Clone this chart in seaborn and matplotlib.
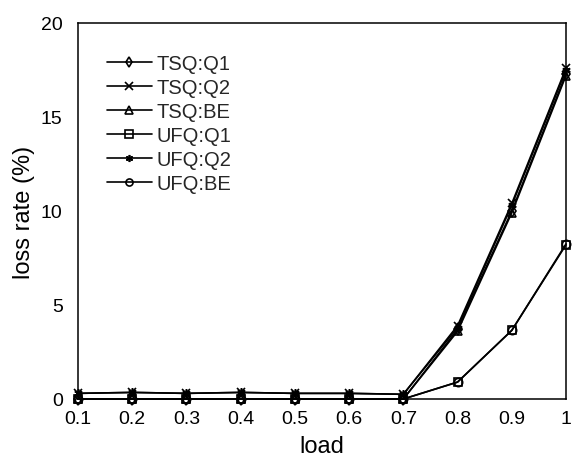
import matplotlib
matplotlib.use("Agg")
import matplotlib.pyplot as plt
import seaborn as sns
import pandas as pd

load = [0.1, 0.2, 0.3, 0.4, 0.5, 0.6, 0.7, 0.8, 0.9, 1.0]

tsq_q1 = [0.0, 0.0, 0.0, 0.0, 0.0, 0.0, 0.0, 3.7, 10.0, 17.3]
tsq_q2 = [0.3, 0.35, 0.3, 0.35, 0.3, 0.3, 0.25, 3.9, 10.4, 17.6]
tsq_be = [0.0, 0.0, 0.0, 0.0, 0.0, 0.0, 0.0, 3.6, 9.9, 17.2]
ufq_q1 = [0.0, 0.0, 0.0, 0.0, 0.0, 0.0, 0.0, 0.9, 3.65, 8.2]
ufq_q2 = [0.3, 0.35, 0.3, 0.35, 0.3, 0.3, 0.25, 3.8, 10.3, 17.5]
ufq_be = [0.0, 0.0, 0.0, 0.0, 0.0, 0.0, 0.0, 0.9, 3.65, 8.25]

series = [
    ("TSQ:Q1", tsq_q1, "d"),
    ("TSQ:Q2", tsq_q2, "x"),
    ("TSQ:BE", tsq_be, "^"),
    ("UFQ:Q1", ufq_q1, "s"),
    ("UFQ:Q2", ufq_q2, (6, 2, 0)),
    ("UFQ:BE", ufq_be, "o"),
]

sns.set_theme(style="white")
plt.rcParams["font.family"] = ["Liberation Sans", "DejaVu Sans"]

fig = plt.figure(figsize=(5.72, 4.60), dpi=100)
ax = fig.add_axes([78 / 572, 1 - 400 / 460, 488 / 572, 376 / 460])

for name, vals, mk in series:
    df = pd.DataFrame({"load": load, "rate": vals})
    sns.lineplot(data=df, x="load", y="rate", ax=ax, color="black",
                 linewidth=1.2, marker=mk, markersize=6,
                 markerfacecolor="none", markeredgecolor="black",
                 markeredgewidth=1.2, label=name, clip_on=False)

ax.set_xlim(0.1, 1.0)
ax.set_ylim(0, 20)
ax.set_xticks(load)
ax.set_xticklabels(["0.1", "0.2", "0.3", "0.4", "0.5", "0.6", "0.7",
                    "0.8", "0.9", "1"])
ax.set_yticks([0, 5, 10, 15, 20])
ax.tick_params(axis="x", direction="in", length=5, width=1, colors="black",
               labelsize=14, pad=8)
ax.tick_params(axis="y", direction="inout", length=8, width=1, colors="black",
               labelsize=14, pad=7)
for sp in ax.spines.values():
    sp.set_color("black")
    sp.set_linewidth(1.1)

ax.set_xlabel("load", fontsize=17, color="black", labelpad=6)
ax.set_ylabel("loss rate (%)", fontsize=17, color="black", labelpad=4)

leg = ax.legend(loc="upper left", bbox_to_anchor=(0.059, 0.917),
                frameon=False, fontsize=14.5, handlelength=2.24,
                handletextpad=0.25, labelspacing=0.25, borderaxespad=0.0,
                borderpad=0.0, markerscale=0.85)

fig.savefig("out.png", dpi=100)
